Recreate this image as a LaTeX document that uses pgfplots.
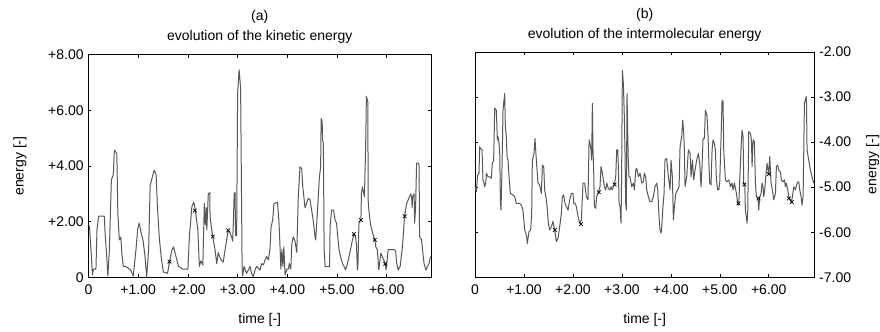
\documentclass[border=0pt]{standalone}
\usepackage{fontspec}
\setmainfont{Liberation Sans}
\usepackage{pgfplots}
\pgfplotsset{compat=1.18}
\begin{document}
\fontsize{14bp}{20bp}\selectfont
\begin{tikzpicture}
\path[use as bounding box] (0bp,0bp) rectangle (880bp,332bp);
\pgfplotsset{
  myaxis/.style={
    scale only axis,
    anchor=south west,
    tick align=inside,
    axis line style={line width=0.9bp},
    tick style={line width=0.6bp, black},
    major tick length=3bp,
    xtick={0,1,2,3,4,5,6},
    xticklabels={0,+1.00,+2.00,+3.00,+4.00,+5.00,+6.00},
    xmin=0,
    ticklabel style={font=\fontsize{14bp}{16bp}\selectfont},
    xticklabel style={yshift=-2.5bp},
    label style={font=\fontsize{14bp}{16bp}\selectfont},
    title style={font=\fontsize{14bp}{20bp}\selectfont, align=center, at={(axis description cs:0.5,1)}, anchor=south, inner sep=0pt, yshift=4.5bp},
    xlabel={time [-]},
    ylabel={energy [-]},
    xlabel style={at={(axis description cs:0.5,-0.19)}, anchor=center},
  },
  curve/.style={color=black!66, line width=1bp, line join=round, no markers},
  xm/.style={only marks, mark=x, mark size=2.6bp, mark options={black, line width=0.7bp}},
}
\begin{axis}[myaxis,
  at={(88.5bp,54.5bp)}, width=342.5bp, height=223bp,
  xmax=6.89, ymin=0, ymax=8,
  ytick={0,2,4,6,8},
  yticklabels={0,+2.00,+4.00,+6.00,+8.00},
  ylabel style={at={(axis description cs:-0.2,0.5)}, anchor=center},
  title={(a)\\evolution of the kinetic energy},
]
\addplot[curve] table {
0.000 1.90
0.020 1.82
0.050 1.00
0.080 0.10
0.100 0.30
0.150 0.30
0.170 1.70
0.205 2.20
0.320 2.20
0.330 1.70
0.365 0.80
0.390 0.05
0.420 1.00
0.460 3.50
0.500 3.70
0.520 4.57
0.570 4.45
0.590 2.30
0.620 1.35
0.650 1.45
0.670 0.90
0.700 0.40
0.740 0.40
0.790 0.35
0.855 0.25
0.900 0.05
0.955 1.00
0.990 1.75
1.020 1.95
1.060 1.60
1.100 1.30
1.140 0.70
1.170 0.02
1.210 1.00
1.240 3.30
1.320 3.85
1.360 3.70
1.385 2.60
1.425 1.40
1.465 0.70
1.505 0.20
1.590 0.15
1.630 0.57
1.680 1.00
1.710 1.10
1.760 0.75
1.810 0.40
1.895 0.30
2.000 0.30
2.030 1.50
2.080 2.55
2.120 2.70
2.150 2.40
2.200 1.70
2.230 0.40
2.260 0.60
2.300 0.45
2.330 2.66
2.350 1.90
2.370 2.50
2.380 1.70
2.410 3.00
2.440 3.05
2.445 2.20
2.480 1.70
2.500 1.47
2.545 1.00
2.580 0.50
2.610 0.90
2.646 0.70
2.680 0.60
2.710 0.55
2.746 0.98
2.780 1.35
2.810 1.68
2.847 1.60
2.880 1.45
2.900 1.30
2.914 1.95
2.930 3.00
2.947 3.05
2.960 1.50
2.980 1.50
3.000 6.60
3.030 7.45
3.060 6.80
3.090 0.40
3.100 0.05
3.128 0.40
3.180 0.15
3.216 0.27
3.250 0.40
3.280 0.15
3.317 0.03
3.350 0.27
3.380 0.40
3.417 0.33
3.450 0.27
3.484 0.50
3.520 0.45
3.550 0.63
3.585 0.75
3.618 0.63
3.650 1.00
3.672 1.80
3.705 2.06
3.730 2.65
3.800 2.70
3.820 2.30
3.833 1.95
3.853 1.10
3.870 0.30
3.890 1.00
3.910 0.40
3.930 1.10
3.954 0.09
3.990 0.30
4.020 0.30
4.040 0.50
4.070 0.30
4.090 1.20
4.120 1.46
4.155 1.30
4.190 0.90
4.220 2.90
4.255 3.97
4.290 3.90
4.310 3.26
4.320 3.10
4.356 2.50
4.420 2.84
4.456 2.80
4.490 2.40
4.520 2.06
4.557 1.46
4.570 1.35
4.590 1.90
4.645 3.60
4.670 3.97
4.680 5.70
4.700 5.60
4.710 4.93
4.725 4.80
4.740 1.00
4.760 0.39
4.850 0.39
4.860 1.82
4.890 2.42
4.930 2.42
4.960 2.06
4.990 1.95
5.020 1.35
5.040 1.00
5.070 0.75
5.110 0.50
5.140 0.40
5.170 0.27
5.210 0.50
5.240 0.75
5.270 1.00
5.310 1.35
5.340 1.56
5.370 1.46
5.390 1.20
5.410 0.27
5.420 0.40
5.440 1.95
5.480 2.06
5.490 3.00
5.510 3.25
5.530 3.10
5.550 2.90
5.570 4.30
5.580 5.20
5.590 6.50
5.610 6.37
5.620 6.30
5.625 2.80
5.640 2.40
5.670 1.95
5.700 1.70
5.760 1.35
5.780 1.10
5.810 1.00
5.840 0.27
5.880 0.87
5.910 0.75
5.970 0.50
5.985 0.27
6.030 1.00
6.150 1.00
6.180 0.93
6.200 0.50
6.230 0.27
6.270 0.40
6.300 0.87
6.320 1.20
6.360 2.22
6.400 2.66
6.430 2.78
6.480 3.00
6.500 2.90
6.510 2.50
6.520 2.90
6.550 3.00
6.560 1.95
6.580 2.50
6.600 4.10
6.640 4.10
6.650 4.00
6.660 1.46
6.700 1.35
6.720 1.00
6.750 0.50
6.790 0.27
6.820 0.40
6.850 0.50
6.880 0.75
};
\addplot[xm] table {
1.63 0.57
2.14 2.40
2.50 1.47
2.81 1.69
5.34 1.56
5.48 2.06
5.76 1.35
5.97 0.49
6.36 2.20
};
\end{axis}
\begin{axis}[myaxis,
  at={(475bp,54.7bp)}, width=339.3bp, height=225.3bp,
  xmax=6.93, ymin=-7, ymax=-2,
  ytick={-7,-6,-5,-4,-3,-2},
  yticklabels={-7.00,-6.00,-5.00,-4.00,-3.00,-2.00},
  yticklabel pos=right,
  ylabel style={at={(axis description cs:1.172,0.5)}, anchor=center},
  title={(b)\\evolution of the intermolecular energy},
]
\addplot[curve] table {
0.000 -4.99
0.027 -5.10
0.054 -4.73
0.082 -4.69
0.095 -4.10
0.109 -4.14
0.143 -4.17
0.163 -4.84
0.184 -4.91
0.197 -4.99
0.218 -4.91
0.232 -4.69
0.266 -4.77
0.300 -4.77
0.334 -4.80
0.354 -4.47
0.381 -4.40
0.402 -3.25
0.436 -3.29
0.456 -3.95
0.470 -3.88
0.490 -4.03
0.504 -4.17
0.518 -5.28
0.531 -5.51
0.552 -4.54
0.572 -3.29
0.606 -2.92
0.620 -3.66
0.640 -3.88
0.654 -4.32
0.674 -4.40
0.695 -4.77
0.722 -5.14
0.776 -5.17
0.810 -5.21
0.844 -5.36
0.912 -5.36
0.947 -5.40
0.980 -5.51
1.015 -5.95
1.049 -6.06
1.069 -6.25
1.103 -5.99
1.137 -5.95
1.158 -5.58
1.171 -4.40
1.205 -4.25
1.226 -3.92
1.239 -4.17
1.267 -4.62
1.287 -4.91
1.321 -4.95
1.355 -5.14
1.376 -4.51
1.403 -4.54
1.423 -5.06
1.457 -5.28
1.478 -5.51
1.498 -5.80
1.525 -5.95
1.560 -5.88
1.593 -5.76
1.628 -5.95
1.662 -6.21
1.696 -6.13
1.730 -5.88
1.764 -5.58
1.784 -5.21
1.811 -5.17
1.839 -5.36
1.866 -5.43
1.900 -5.51
1.934 -5.28
1.968 -5.14
2.002 -5.14
2.016 -5.36
2.043 -5.36
2.070 -5.43
2.104 -5.65
2.138 -5.80
2.172 -5.73
2.206 -4.91
2.240 -4.91
2.274 -5.21
2.308 -5.28
2.330 -3.95
2.349 -4.03
2.370 -4.17
2.383 -4.40
2.397 -3.14
2.410 -4.17
2.424 -4.62
2.438 -5.43
2.465 -5.47
2.485 -5.21
2.520 -5.12
2.553 -4.99
2.574 -4.54
2.601 -4.69
2.622 -4.84
2.642 -4.99
2.670 -5.06
2.690 -4.91
2.724 -5.03
2.758 -5.06
2.778 -4.99
2.805 -5.06
2.826 -4.99
2.846 -4.94
2.874 -4.77
2.894 -4.17
2.915 -4.17
2.928 -4.54
2.942 -5.36
2.962 -5.43
2.983 -5.80
2.996 -4.54
3.010 -2.40
3.030 -2.70
3.050 -3.43
3.064 -4.25
3.078 -5.36
3.091 -5.51
3.105 -2.92
3.119 -3.80
3.132 -4.47
3.146 -4.77
3.166 -4.77
3.200 -4.99
3.234 -4.91
3.255 -5.06
3.282 -4.62
3.303 -4.58
3.337 -4.77
3.371 -4.69
3.405 -4.91
3.439 -4.88
3.459 -4.69
3.486 -4.77
3.507 -5.06
3.541 -5.21
3.575 -5.32
3.609 -5.32
3.643 -5.21
3.677 -4.99
3.711 -4.91
3.732 -5.06
3.759 -5.65
3.779 -5.95
3.800 -6.02
3.813 -5.91
3.834 -5.51
3.861 -5.14
3.881 -4.40
3.915 -4.36
3.950 -4.77
3.984 -5.06
4.004 -4.40
4.031 -4.77
4.052 -5.73
4.072 -5.43
4.100 -5.14
4.140 -5.06
4.168 -4.99
4.188 -4.10
4.222 -3.88
4.243 -3.51
4.263 -3.80
4.276 -4.17
4.290 -4.99
4.324 -4.77
4.358 -4.17
4.392 -4.25
4.413 -4.77
4.440 -4.40
4.467 -4.84
4.494 -4.62
4.528 -4.40
4.562 -4.25
4.590 -4.47
4.617 -4.99
4.637 -4.54
4.658 -3.92
4.685 -3.92
4.706 -3.29
4.740 -3.43
4.760 -3.88
4.780 -4.54
4.794 -4.91
4.821 -4.95
4.842 -4.17
4.862 -3.95
4.889 -4.03
4.910 -4.17
4.930 -4.84
4.958 -5.06
4.978 -5.06
4.998 -4.91
5.026 -3.88
5.046 -3.07
5.066 -3.10
5.080 -4.17
5.114 -4.84
5.148 -4.88
5.182 -4.84
5.203 -4.91
5.216 -4.99
5.250 -4.91
5.271 -5.06
5.298 -4.91
5.339 -5.14
5.366 -5.36
5.387 -5.40
5.407 -4.84
5.435 -4.10
5.455 -3.73
5.475 -3.88
5.489 -4.91
5.509 -4.93
5.523 -5.51
5.557 -5.80
5.571 -5.51
5.591 -3.77
5.625 -3.80
5.646 -3.95
5.659 -4.54
5.680 -3.95
5.707 -3.99
5.727 -4.91
5.748 -5.21
5.781 -5.25
5.795 -5.51
5.816 -5.21
5.843 -5.14
5.863 -4.91
5.884 -4.99
5.897 -5.21
5.918 -5.06
5.938 -4.77
5.965 -4.47
5.999 -4.71
6.020 -4.32
6.047 -4.91
6.074 -5.06
6.101 -5.28
6.136 -5.14
6.156 -4.54
6.183 -4.51
6.204 -4.62
6.238 -4.66
6.258 -4.84
6.292 -4.88
6.320 -4.84
6.340 -4.99
6.360 -4.91
6.388 -5.06
6.408 -5.21
6.442 -5.28
6.462 -5.34
6.483 -5.21
6.510 -4.99
6.544 -5.06
6.578 -4.91
6.612 -4.88
6.633 -5.06
6.660 -5.21
6.680 -5.40
6.701 -5.21
6.715 -4.17
6.728 -3.14
6.755 -3.03
6.769 -2.99
6.782 -4.17
6.816 -4.40
6.850 -4.62
6.884 -4.77
6.918 -4.91
};
\addplot[xm] table {
1.63 -5.95
2.165 -5.82
2.53 -5.11
2.85 -4.94
5.38 -5.36
5.50 -4.94
5.79 -5.25
6.00 -4.71
6.41 -5.25
6.47 -5.33
};
\end{axis}
\end{tikzpicture}
\end{document}
